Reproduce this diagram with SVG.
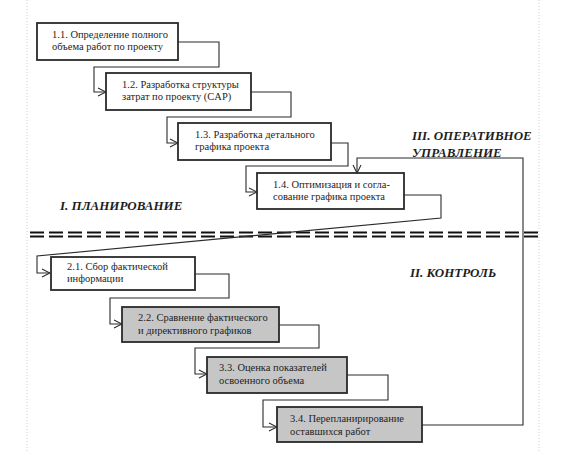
<svg xmlns="http://www.w3.org/2000/svg" width="572" height="452" viewBox="0 0 572 452">
<style>
.box{fill:#fff;stroke:#2a2a2a;stroke-width:1.8}
.g{fill:#c6c6c6}
.t{font-family:'Times New Roman',Times,'Liberation Serif',Tinos,'Noto Serif','DejaVu Serif',serif;font-size:10.5px;fill:#1e1e1e}
.h{font-family:'Times New Roman',Times,'Liberation Serif',Tinos,'Noto Serif','DejaVu Serif',serif;font-size:13px;font-weight:bold;font-style:italic;fill:#1e1e1e}
.c{fill:none;stroke:#2a2a2a;stroke-width:1.1}
.dash{fill:none;stroke:#111;stroke-width:2.2;stroke-dasharray:14 5}
.margin{stroke:#cfcfcf;stroke-width:1;stroke-dasharray:1 2}
</style>
<defs>
<marker id="arr" markerWidth="10" markerHeight="10" refX="9" refY="5" orient="auto" markerUnits="userSpaceOnUse">
<path d="M1,1 L9,5 L1,9" fill="none" stroke="#2a2a2a" stroke-width="1.1"/>
</marker>
</defs>
<rect width="572" height="452" fill="#fff"/>
<line class="margin" x1="27" y1="0" x2="27" y2="452"/>
<line class="margin" x1="539" y1="0" x2="539" y2="452"/>
<g id="separator">
<line class="dash" x1="30" y1="232.5" x2="538" y2="232.5"/>
<line class="dash" x1="30" y1="236.5" x2="538" y2="236.5"/>
</g>
<g id="connectors">
<path class="c" d="M178,42 H219 V67 H94 V92 H106" marker-end="url(#arr)"/>
<path class="c" d="M251,92 H291 V117 H167 V143 H178" marker-end="url(#arr)"/>
<path class="c" d="M331,143 H348 V166 H246 V192 H257" marker-end="url(#arr)"/>
<path class="c" d="M404,195 H441 V218 L37,256 V273 H50" marker-end="url(#arr)"/>
<path class="c" d="M195,274 H229 V298 H110 V324 H122" marker-end="url(#arr)"/>
<path class="c" d="M279,325 H319 V348 H195 V374 H207" marker-end="url(#arr)"/>
<path class="c" d="M347,375 H388 V400 H263 V427 H277" marker-end="url(#arr)"/>
<path class="c" d="M422,425 H523 V158 H357 V173" marker-end="url(#arr)"/>
</g>
<g id="n11"><rect class="box" x="37" y="23" width="141" height="37"/>
<text class="t" x="52" y="38">1.1. Определение полного</text>
<text class="t" x="52" y="50">объема работ по проекту</text></g>
<g id="n12"><rect class="box" x="106" y="73" width="145" height="37"/>
<text class="t" x="122" y="88">1.2. Разработка структуры</text>
<text class="t" x="122" y="100">затрат по проекту (CAP)</text></g>
<g id="n13"><rect class="box" x="178" y="123" width="153" height="37"/>
<text class="t" x="195" y="138">1.3. Разработка детального</text>
<text class="t" x="195" y="150">графика проекта</text></g>
<g id="n14"><rect class="box" x="257" y="173" width="147" height="36"/>
<text class="t" x="273" y="188">1.4. Оптимизация и согла-</text>
<text class="t" x="273" y="200">сование графика проекта</text></g>
<g id="n21"><rect class="box" x="51" y="257" width="144" height="33"/>
<text class="t" x="67" y="270">2.1. Сбор фактической</text>
<text class="t" x="67" y="282">информации</text></g>
<g id="n22"><rect class="box g" x="122" y="307" width="157" height="35"/>
<text class="t" x="138" y="321">2.2. Сравнение фактического</text>
<text class="t" x="138" y="334">и директивного графиков</text></g>
<g id="n33"><rect class="box g" x="207" y="357" width="140" height="36"/>
<text class="t" x="219" y="371">3.3. Оценка показателей</text>
<text class="t" x="219" y="384">освоенного объема</text></g>
<g id="n34"><rect class="box g" x="277" y="407" width="145" height="35"/>
<text class="t" x="290" y="422">3.4. Перепланирирование</text>
<text class="t" x="290" y="435">оставшихся работ</text></g>
<g id="labels">
<text class="h" x="60" y="210">I. ПЛАНИРОВАНИЕ</text>
<text class="h" x="412" y="140">III. ОПЕРАТИВНОЕ</text>
<text class="h" x="412" y="157">УПРАВЛЕНИЕ</text>
<text class="h" x="410" y="277">II. КОНТРОЛЬ</text>
</g>
</svg>
